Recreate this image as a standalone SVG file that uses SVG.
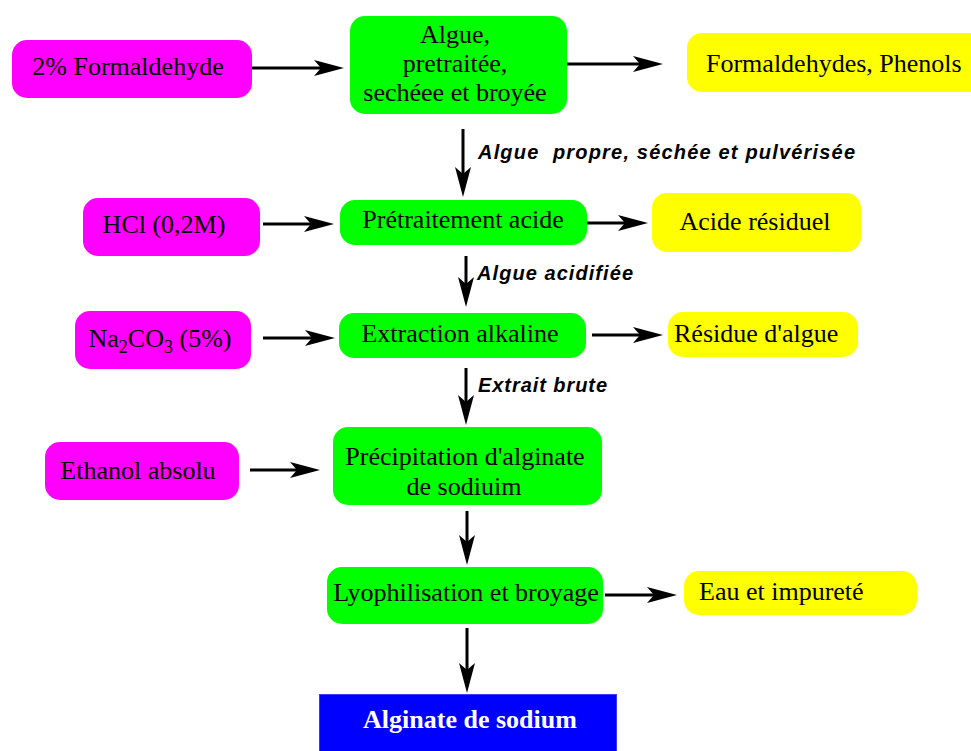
<svg xmlns="http://www.w3.org/2000/svg" width="971" height="751" viewBox="0 0 971 751">
<style>
.mag{fill:#FF00FF}
.grn{fill:#00FF00}
.yel{fill:#FFFF00}
.t{font-family:"Liberation Serif","Times New Roman",serif;font-size:26px;fill:#000}
.c{text-anchor:middle}
.lbl{font-family:"Liberation Sans",Arial,sans-serif;font-size:20px;font-weight:bold;font-style:italic;fill:#000}
.con line{stroke:#000;stroke-width:3;marker-end:url(#ah)}
</style>
<defs>
<marker id="ah" markerUnits="userSpaceOnUse" markerWidth="32" markerHeight="18" viewBox="-11 -9 32 18" refX="0" refY="0" orient="auto">
<path d="M20,0 L-10,-8 L-3,0 L-10,8 Z" fill="#000"/>
</marker>
</defs>
<rect width="971" height="751" fill="#fff"/>

<g id="n-formaldehyde">
<rect class="mag" x="12" y="40" width="240" height="58" rx="15"/>
<text class="t c" x="128" y="75">2% Formaldehyde</text>
</g>
<g id="n-algue">
<rect class="grn" x="350" y="16" width="217" height="98" rx="15"/>
<text class="t c" x="455" y="43">Algue,</text>
<text class="t c" x="455" y="72">pretraitée,</text>
<text class="t c" x="455" y="101">sechéee et broyée</text>
</g>
<g id="n-phenols">
<rect class="yel" x="687" y="33" width="300" height="59" rx="15"/>
<text class="t" x="706" y="72">Formaldehydes, Phenols</text>
</g>
<g id="n-hcl">
<rect class="mag" x="83" y="198" width="177" height="58" rx="15"/>
<text class="t c" x="164" y="233">HCl (0,2M)</text>
</g>
<g id="n-pretraitement">
<rect class="grn" x="340" y="200" width="247" height="45" rx="15"/>
<text class="t c" x="463" y="228">Prétraitement acide</text>
</g>
<g id="n-acide">
<rect class="yel" x="652" y="193" width="209" height="59" rx="15"/>
<text class="t c" x="755" y="230">Acide résiduel</text>
</g>
<g id="n-na2co3">
<rect class="mag" x="75" y="311" width="176" height="58" rx="15"/>
<text class="t c" x="160" y="347">Na<tspan font-size="18" dy="6">2</tspan><tspan dy="-6">CO</tspan><tspan font-size="18" dy="6">3</tspan><tspan dy="-6"> (5%)</tspan></text>
</g>
<g id="n-extraction">
<rect class="grn" x="339" y="313" width="247" height="45" rx="15"/>
<text class="t c" x="460" y="342">Extraction alkaline</text>
</g>
<g id="n-residue">
<rect class="yel" x="668" y="312" width="190" height="45" rx="15"/>
<text class="t" x="674" y="342">Résidue d'algue</text>
</g>
<g id="n-ethanol">
<rect class="mag" x="45" y="442" width="194" height="58" rx="15"/>
<text class="t c" x="138" y="479">Ethanol absolu</text>
</g>
<g id="n-precipitation">
<rect class="grn" x="333" y="427" width="269" height="78" rx="15"/>
<text class="t c" x="465" y="465">Précipitation d'alginate</text>
<text class="t c" x="464" y="495">de sodiuim</text>
</g>
<g id="n-lyophilisation">
<rect class="grn" x="327" y="567" width="276" height="57" rx="15"/>
<text class="t c" x="466" y="601">Lyophilisation et broyage</text>
</g>
<g id="n-eau">
<rect class="yel" x="684" y="571" width="233" height="44" rx="15"/>
<text class="t" x="699" y="600">Eau et impureté</text>
</g>
<g id="n-alginate">
<rect x="319.5" y="694.5" width="297" height="60" fill="#0000FF" stroke="#3a3aff" stroke-width="1"/>
<text x="470" y="728" text-anchor="middle" font-family="'Liberation Serif','Times New Roman',serif" font-size="26" font-weight="bold" fill="#fff">Alginate de sodium</text>
</g>

<g id="connectors" class="con">
<line x1="252" y1="68" x2="324" y2="68"/>
<line x1="567" y1="64" x2="643" y2="64"/>
<line x1="263" y1="224" x2="314" y2="224"/>
<line x1="587" y1="223" x2="628" y2="223"/>
<line x1="263" y1="338" x2="315" y2="338"/>
<line x1="592" y1="335" x2="643" y2="335"/>
<line x1="250" y1="470" x2="300" y2="470"/>
<line x1="605" y1="595" x2="657" y2="595"/>
<line x1="463" y1="129" x2="463" y2="177"/>
<line x1="466" y1="256" x2="466" y2="287"/>
<line x1="466" y1="368" x2="466" y2="405"/>
<line x1="467" y1="511" x2="467" y2="545"/>
<line x1="467" y1="628" x2="467" y2="673"/>
</g>
<g id="labels">
<text class="lbl" x="478" y="159" textLength="377" lengthAdjust="spacing" xml:space="preserve">Algue  propre, séchée et pulvérisée</text>
<text class="lbl" x="477" y="280" textLength="156" lengthAdjust="spacing">Algue acidifiée</text>
<text class="lbl" x="478" y="392" textLength="129" lengthAdjust="spacing">Extrait brute</text>
</g>
</svg>
